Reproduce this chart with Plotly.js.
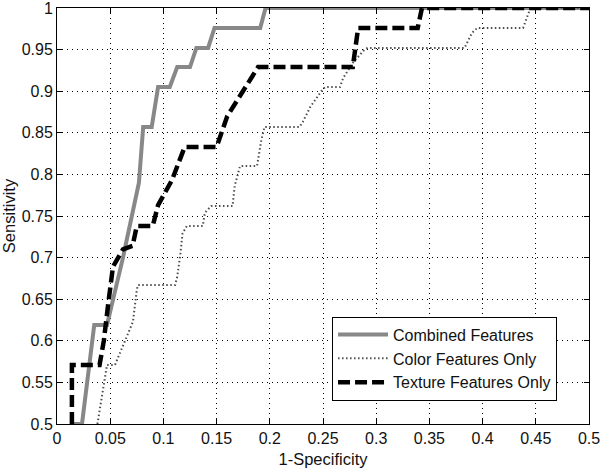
<!DOCTYPE html>
<html>
<head>
<meta charset="utf-8">
<script src="https://cdn.plot.ly/plotly-3.0.1.min.js"></script>
<style>
  body { margin: 0; background: #fff; }
  #rocChart { width: 600px; height: 468px; }
</style>
</head>
<body>
<div id="rocChart"></div>
<script>
// ROC points (1-specificity, sensitivity)
let combinedX = [0.014, 0.0235, 0.035, 0.047, 0.062, 0.077, 0.081, 0.089, 0.095, 0.106, 0.113, 0.125, 0.131, 0.142, 0.148, 0.191, 0.196, 0.5];
let combinedY = [0.5, 0.5, 0.619, 0.619, 0.70, 0.79, 0.857, 0.857, 0.905, 0.905, 0.929, 0.929, 0.952, 0.952, 0.976, 0.976, 1, 1];

let colorX = [0.038, 0.047, 0.0545, 0.0714, 0.075, 0.076, 0.111, 0.113, 0.116, 0.118, 0.122, 0.137, 0.139, 0.145, 0.165, 0.167, 0.172, 0.188, 0.192, 0.195, 0.200, 0.228, 0.231, 0.238, 0.249, 0.252, 0.266, 0.269, 0.278, 0.289, 0.292, 0.383, 0.390, 0.395, 0.438, 0.445, 0.5];
let colorY = [0.5, 0.571, 0.571, 0.623, 0.661, 0.667, 0.667, 0.677, 0.705, 0.729, 0.738, 0.738, 0.754, 0.762, 0.762, 0.786, 0.810, 0.810, 0.841, 0.857, 0.857, 0.857, 0.863, 0.881, 0.901, 0.905, 0.905, 0.916, 0.934, 0.950, 0.952, 0.952, 0.970, 0.976, 0.976, 1, 1];

let textureX = [0.014, 0.014, 0.040, 0.044, 0.048, 0.0526, 0.062, 0.071, 0.075, 0.090, 0.095, 0.108, 0.120, 0.150, 0.160, 0.189, 0.278, 0.283, 0.339, 0.343, 0.5];
let textureY = [0.5, 0.571, 0.571, 0.600, 0.643, 0.689, 0.710, 0.714, 0.738, 0.738, 0.763, 0.793, 0.833, 0.833, 0.870, 0.929, 0.929, 0.976, 0.976, 1, 1];

let seriesNames = ['Combined Features', 'Color Features Only', 'Texture Features Only'];

// tick labels as in the figure
let xTicks = [0, 0.05, 0.1, 0.15, 0.2, 0.25, 0.3, 0.35, 0.4, 0.45, 0.5];
let xTickText = ['0', '0.05', '0.1', '0.15', '0.2', '0.25', '0.3', '0.35', '0.4', '0.45', '0.5'];
let yTicks = [0.5, 0.55, 0.6, 0.65, 0.7, 0.75, 0.8, 0.85, 0.9, 0.95, 1];
let yTickText = ['0.5', '0.55', '0.6', '0.65', '0.7', '0.75', '0.8', '0.85', '0.9', '0.95', '1'];

var data = [{
    x: combinedX,
    y: combinedY,
    name: seriesNames[0],
    mode: 'lines',
    line: {color: '#888888', width: 4}
  }, {
    x: colorX,
    y: colorY,
    name: seriesNames[1],
    mode: 'lines',
    line: {color: '#4d4d4d', width: 2, dash: '1.5px,2.5px'}
  }, {
    x: textureX,
    y: textureY,
    name: seriesNames[2],
    mode: 'lines',
    line: {color: '#000000', width: 4.5, dash: '12px,5px'}
  }];

var axisStyle = {
    tickmode: 'array',
    showline: true,
    linecolor: '#000',
    linewidth: 1,
    mirror: 'ticks',
    ticks: 'inside',
    ticklen: 5,
    tickcolor: '#000',
    showgrid: true,
    gridcolor: '#000',
    gridwidth: 1,
    griddash: '1px,4px',
    zeroline: false,
    layer: 'above traces',
    ticklabeloverflow: 'allow',
    tickfont: {family: 'Liberation Sans, Arial, sans-serif', size: 16, color: '#111'}
};

var layout = {
    width: 600,
    height: 468,
    margin: {l: 57, r: 11, t: 8, b: 44},
    paper_bgcolor: '#fff',
    plot_bgcolor: '#fff',
    font: {family: 'Liberation Sans, Arial, sans-serif', size: 15, color: '#111'},
    xaxis: Object.assign({}, axisStyle, {
      range: [0, 0.5],
      tickvals: xTicks,
      ticktext: xTickText,
      title: {text: '1-Specificity', standoff: 8, font: {size: 16.5}}
    }),
    yaxis: Object.assign({}, axisStyle, {
      range: [0.5, 1],
      tickvals: yTicks,
      ticktext: yTickText,
      title: {text: 'Sensitivity', standoff: 2, font: {size: 16.5}}
    }),
    showlegend: true,
    legend: {
      x: 0.517,
      y: 0.258,
      xanchor: 'left',
      yanchor: 'top',
      bgcolor: '#fff',
      bordercolor: '#000',
      borderwidth: 1,
      itemwidth: 50,
      tracegroupgap: 0,
      font: {size: 16, color: '#111'}
    }
};

Plotly.newPlot('rocChart', data, layout, {displayModeBar: false, staticPlot: true});
</script>
</body>
</html>
